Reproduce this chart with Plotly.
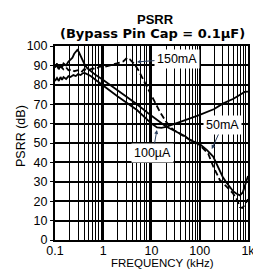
import plotly.graph_objects as go

# ---- data (frequency in kHz, PSRR in dB) ----
f_50mA = [0.1, 0.11, 0.12, 0.13, 0.14, 0.15, 0.17, 0.19, 0.21, 0.23, 0.25, 0.27, 0.29, 0.31,
          0.34, 0.38, 0.42, 0.47, 0.55, 0.7, 1, 2, 5, 10, 20, 50, 63, 100, 140, 190, 220,
          260, 300, 360, 415, 500, 570, 680, 780, 850, 920, 1000]
db_50mA = [89, 91, 88, 90, 89, 91, 90, 92, 93, 94, 96, 97, 98, 97,
           95, 92, 90, 88.5, 87, 85, 82.5, 77, 70, 64, 58.5, 53.5, 51.5, 49.5, 46.5, 43, 39.5,
           36, 32.5, 29.5, 27.5, 25, 24, 23, 24.5, 27.5, 30, 33]

f_100uA = [0.1, 0.11, 0.12, 0.13, 0.14, 0.15, 0.17, 0.19, 0.21, 0.24, 0.27, 0.3, 0.34, 0.38,
           0.42, 0.47, 0.55, 0.7, 1, 2, 5, 10, 13, 16, 20, 33, 50, 100, 200, 300, 500, 700,
           850, 1000]
db_100uA = [82, 83.5, 82, 84, 82.5, 84, 83, 84.5, 84, 85, 84.5, 85.5, 85, 86,
            86, 85.5, 84.5, 82.5, 79.5, 74, 67, 60, 58, 57.8, 58.3, 60, 61.8, 64.5, 67.5, 70.3,
            72.8, 75, 76.3, 76.5]

f_150mA = [0.1, 0.11, 0.12, 0.13, 0.15, 0.17, 0.19, 0.22, 0.25, 0.3, 0.35, 0.4, 0.5, 0.6,
           0.7, 0.85, 1, 1.3, 1.6, 1.9, 2.2, 2.6, 3, 3.3, 3.6, 4.1, 4.5, 5.5, 7, 8.5, 10.8,
           15, 20, 25, 30, 50, 100, 150, 190, 260, 360, 490, 600, 680, 760, 850, 1000]
db_150mA = [89, 90, 88, 89.5, 88, 89, 87.5, 88, 87, 87.5, 86.5, 88, 87.5, 88.5,
            88, 89.5, 89, 90, 90.5, 91, 91.5, 92, 93.5, 92.5, 93, 91.5, 90.5, 87, 82, 78, 73.5,
            66, 61, 58, 56.5, 53, 49, 44.5, 38, 31, 27.5, 24, 20.5, 17, 16.5, 18, 21]

x_tickvals = [0.1, 1, 10, 100, 1000]
x_ticktext = ["0.1", "1", "10", "100", "1k"]
y_tickvals = [0, 10, 20, 30, 40, 50, 60, 70, 80, 90, 100]

FONT = "Liberation Sans, Arial, sans-serif"
W, H = 253, 270
ML, MR, MT, MB = 55, 5, 46, 30

fig = go.Figure()
fig.add_trace(go.Scatter(x=f_100uA, y=db_100uA, mode="lines", name="100µA",
                         line=dict(color="black", width=1.8)))
fig.add_trace(go.Scatter(x=f_50mA, y=db_50mA, mode="lines", name="50mA",
                         line=dict(color="black", width=1.8)))
fig.add_trace(go.Scatter(x=f_150mA, y=db_150mA, mode="lines", name="150mA",
                         line=dict(color="black", width=1.8, dash="6px,3px")))

fig.update_layout(
    width=W, height=H,
    margin=dict(l=ML, r=MR, t=MT, b=MB, autoexpand=False),
    paper_bgcolor="white", plot_bgcolor="white",
    showlegend=False,
    font=dict(family=FONT, size=12.5, color="black"),
)

fig.update_xaxes(
    type="log", range=[-1, 3.0005],
    tickvals=x_tickvals, ticktext=x_ticktext,
    showgrid=True, gridcolor="black", gridwidth=2,
    minor=dict(dtick="D1", showgrid=True, gridcolor="black", gridwidth=1,
               ticks="", ticklen=0),
    showline=True, linecolor="black", linewidth=2, mirror=True,
    ticks="", ticklen=0, tickfont=dict(size=12.5), ticklabelstandoff=-2,
    ticklabeloverflow="allow", automargin=False,
    zeroline=False,
)
fig.update_yaxes(
    range=[0, 100], tickvals=y_tickvals,
    showgrid=True, gridcolor="black", gridwidth=2,
    showline=True, linecolor="black", linewidth=2, mirror=True,
    ticks="outside", ticklen=3, tickcolor="black", tickwidth=1,
    tickfont=dict(size=12.5), zeroline=False, automargin=False,
)

def px_x(px):
    return (px - ML) / (W - ML - MR)

def px_y(py):
    return (H - MB - py) / (H - MT - MB)

# title (two lines)
fig.add_annotation(x=px_x(155), y=px_y(19.5), xref="paper", yref="paper", text="<b>PSRR</b>",
                   showarrow=False, xanchor="center", yanchor="middle",
                   font=dict(family=FONT, size=13, color="black"))
fig.add_annotation(x=px_x(152), y=px_y(33), xref="paper", yref="paper",
                   text="<b>(Bypass Pin Cap = 0.1µF)</b>",
                   showarrow=False, xanchor="center", yanchor="middle",
                   font=dict(family="DejaVu Sans", size=13, color="black"))

ann_font = dict(family=FONT, size=12.5, color="black")
fig.add_annotation(x=0.70, y=91.8, xref="x", yref="y", text="150mA", font=ann_font,
                   showarrow=True, ax=40, ay=-3, arrowhead=2, arrowsize=0.8, arrowwidth=1,
                   bgcolor="white", borderpad=2)
fig.add_annotation(x=2.25, y=46.9, xref="x", yref="y", text="50mA", font=ann_font,
                   showarrow=True, ax=11, ay=-24, arrowhead=2, arrowsize=0.8, arrowwidth=1,
                   bgcolor="white", borderpad=2)
fig.add_annotation(x=1.112, y=56.7, xref="x", yref="y", text="100µA", font=ann_font,
                   showarrow=True, ax=-4, ay=23, arrowhead=2, arrowsize=0.8, arrowwidth=1,
                   bgcolor="white", borderpad=2)

fig.add_annotation(x=px_x(21), y=px_y(136), xref="paper", yref="paper", text="PSRR (dB)",
                   textangle=-90, showarrow=False, font=dict(family=FONT, size=12.5),
                   xanchor="center", yanchor="middle")
fig.add_annotation(x=px_x(162), y=px_y(263), xref="paper", yref="paper", text="FREQUENCY (kHz)",
                   showarrow=False, font=dict(family=FONT, size=11.5),
                   xanchor="center", yanchor="middle")

fig.write_html("out.html", config={"displayModeBar": False},
               post_script="document.body.style.margin='0px';")
